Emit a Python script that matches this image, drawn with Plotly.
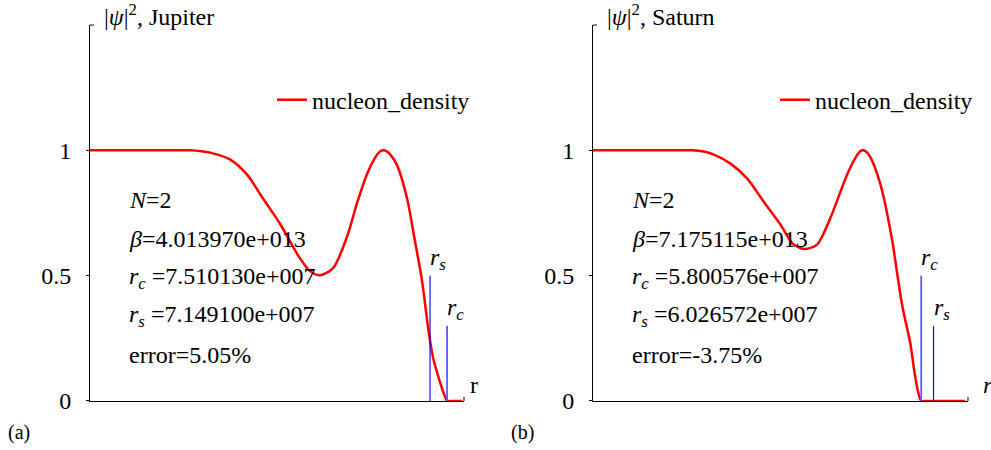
import plotly.graph_objects as go

W, H = 991, 436  # effective drawing height seen in the photographed page

# ---------------- data (r in units of 1e7 m) ----------------
jup_r = [-0.07, 1.20, 2.05, 2.30, 2.54, 2.90, 3.26, 3.60, 3.97, 4.33, 4.60, 4.81, 5.09, 5.39, 5.60,
         5.81, 5.98, 6.07, 6.15, 6.24, 6.32, 6.45, 6.66, 6.83, 6.98, 7.11, 7.21, 7.36, 7.45, 7.51,
         7.60, 7.83]
jup_psi2 = [1.0, 1.0, 1.0, 0.996, 0.988, 0.964, 0.904, 0.809, 0.705, 0.586, 0.518, 0.502, 0.530, 0.657,
            0.790, 0.905, 0.970, 0.993, 1.0, 0.995, 0.980, 0.940, 0.809, 0.637, 0.478, 0.290, 0.175,
            0.075, 0.025, 0.0, 0.0, 0.0]

sat_r = [-0.23, 0.82, 1.59, 1.80, 1.98, 2.29, 2.60, 2.90, 3.21, 3.45, 3.67, 3.89, 4.13, 4.44, 4.62,
         4.68, 4.72, 4.78, 4.86, 5.05, 5.27, 5.36, 5.46, 5.60, 5.68, 5.75, 5.80, 5.90, 6.61]
sat_psi2 = [1.0, 1.0, 1.0, 0.995, 0.984, 0.948, 0.888, 0.797, 0.705, 0.625, 0.606, 0.625, 0.729, 0.904,
            0.980, 0.996, 1.0, 0.996, 0.975, 0.865, 0.637, 0.506, 0.371, 0.230, 0.110, 0.030, 0.0,
            0.0, 0.0]

jup_mark_sub = ["s", "c"]
jup_mark_r = [7.149100, 7.510130]
jup_mark_h = [0.5, 0.3]
sat_mark_sub = ["c", "s"]
sat_mark_r = [5.800576, 6.026572]
sat_mark_h = [0.5, 0.3]

jup_info = ["<i>N</i>=2", "<i>β</i>=4.013970e+013",
            "<i>r</i><sub><i>c</i></sub> =7.510130e+007",
            "<i>r</i><sub><i>s</i></sub> =7.149100e+007", "error=5.05%"]
sat_info = ["<i>N</i>=2", "<i>β</i>=7.175115e+013",
            "<i>r</i><sub><i>c</i></sub> =5.800576e+007",
            "<i>r</i><sub><i>s</i></sub> =6.026572e+007", "error=-3.75%"]

y_ticks = [0, 0.5, 1]
y_ticktext = ["0", "0.5", "1"]

FONT = "Liberation Serif, Times New Roman, Times, serif"
FS = 24


def fx(p):
    return p / W


def fy(p):
    return 1 - p / H


fig = go.Figure()

mark_colors = {"s": "#1010e8", "c": "#5a5aff"}
mark_widths = {"s": 1.2, "c": 1.8}

panels = [
    dict(xa="x", ya="y", r=jup_r, v=jup_psi2, subs=jup_mark_sub, mr=jup_mark_r, mh=jup_mark_h,
         info=jup_info, leg="legend", x0=90, x1=464, xr=[-0.07, 7.87], title="Jupiter",
         tag="(a)", rlab="r", rdx=4),
    dict(xa="x2", ya="y2", r=sat_r, v=sat_psi2, subs=sat_mark_sub, mr=sat_mark_r, mh=sat_mark_h,
         info=sat_info, leg="legend2", x0=593, x1=968, xr=[-0.23, 6.66], title="Saturn",
         tag="(b)", rlab="<i>r</i>", rdx=13),
]

annotations = []
shapes = []
for p in panels:
    fig.add_trace(go.Scatter(x=p["r"], y=p["v"], mode="lines", name="nucleon_density",
                             line=dict(color="#ff0000", width=2.5, shape="spline", smoothing=0.8),
                             cliponaxis=False,
                             xaxis=p["xa"], yaxis=p["ya"], legend=p["leg"]))
    for sub, rr, hh in zip(p["subs"], p["mr"], p["mh"]):
        fig.add_trace(go.Scatter(x=[rr, rr], y=[0, hh], mode="lines", showlegend=False,
                                 line=dict(color=mark_colors[sub], width=mark_widths[sub]),
                                 xaxis=p["xa"], yaxis=p["ya"]))
        annotations.append(dict(x=rr, y=hh, xref=p["xa"], yref=p["ya"], xanchor="left",
                                yanchor="bottom", showarrow=False, xshift=-2, yshift=0,
                                text=f"<i>r</i><sub><i>{sub}</i></sub>",
                                font=dict(family=FONT, size=FS, color="black")))
    # info block
    tx = p["x0"] + 37
    for i, t in enumerate(p["info"]):
        annotations.append(dict(x=fx(tx), y=fy(200 + i * 38.5), xref="paper", yref="paper",
                                xanchor="left", yanchor="middle", showarrow=False, text=t,
                                font=dict(family=FONT, size=FS, color="black")))
    # y title
    annotations.append(dict(x=fx(p["x0"] + 12), y=fy(15), xref="paper", yref="paper",
                            xanchor="left", yanchor="middle", showarrow=False,
                            text="|<i>ψ</i>|<sup>2</sup>, " + p["title"],
                            font=dict(family=FONT, size=FS, color="black")))
    # x label
    annotations.append(dict(x=fx(p["x1"] + p["rdx"]), y=fy(384), xref="paper", yref="paper",
                            xanchor="left", yanchor="middle", showarrow=False, text=p["rlab"],
                            font=dict(family=FONT, size=FS, color="black")))
    # panel tag
    annotations.append(dict(x=fx(p["x0"] - 84), y=0, xref="paper", yref="paper",
                            xanchor="left", yanchor="bottom", showarrow=False, text=p["tag"],
                            yshift=-9, font=dict(family=FONT, size=20, color="black")))
    # axis end marks
    shapes.append(dict(type="line", xref="paper", yref="paper", x0=fx(p["x0"]), x1=fx(p["x0"] + 4),
                       y0=fy(25), y1=fy(25), line=dict(color="black", width=1)))
    shapes.append(dict(type="line", xref="paper", yref="paper", x0=fx(p["x1"]), x1=fx(p["x1"]),
                       y0=fy(400), y1=fy(396), line=dict(color="black", width=1)))

axis_common = dict(showgrid=False, zeroline=False, showline=True, linecolor="black", linewidth=1)

fig.update_layout(
    autosize=True, margin=dict(l=0, r=0, t=0, b=0),
    paper_bgcolor="white", plot_bgcolor="white",
    font=dict(family=FONT, size=FS, color="black"),
    xaxis=dict(domain=[fx(90), fx(464)], range=panels[0]["xr"], showticklabels=False, ticks="",
               anchor="y", **axis_common),
    yaxis=dict(domain=[fy(400), fy(25)], range=[0, 1.5], tickvals=y_ticks, ticktext=y_ticktext,
               ticks="outside", ticklen=3, tickcolor="black", ticklabelstandoff=10,
               tickfont=dict(family=FONT, size=FS), anchor="x", **axis_common),
    xaxis2=dict(domain=[fx(593), fx(968)], range=panels[1]["xr"], showticklabels=False, ticks="",
                anchor="y2", **axis_common),
    yaxis2=dict(domain=[fy(400), fy(25)], range=[0, 1.5], tickvals=y_ticks, ticktext=y_ticktext,
                ticks="outside", ticklen=3, tickcolor="black", ticklabelstandoff=10,
                tickfont=dict(family=FONT, size=FS), anchor="x2", **axis_common),
    legend=dict(x=fx(272), y=fy(100), xanchor="left", yanchor="middle", bgcolor="rgba(0,0,0,0)",
                font=dict(family=FONT, size=FS)),
    legend2=dict(x=fx(775), y=fy(100), xanchor="left", yanchor="middle", bgcolor="rgba(0,0,0,0)",
                 font=dict(family=FONT, size=FS)),
    annotations=annotations, shapes=shapes, showlegend=True,
)

fig.write_html("out.html", default_width="100vw", default_height="100vh")
